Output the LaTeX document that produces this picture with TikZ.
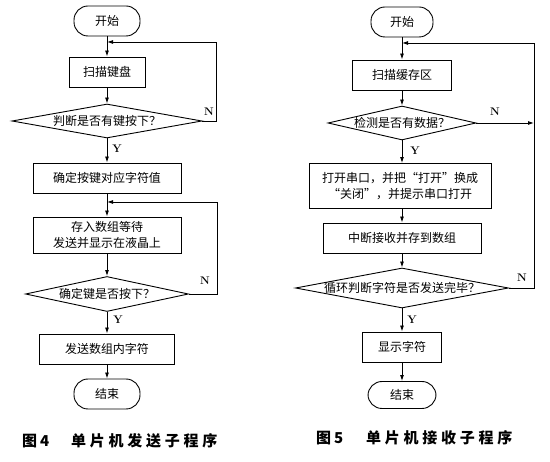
\documentclass[tikz,border=0pt]{standalone}
\usepackage{fontspec}
\usepackage{tikz}
\usetikzlibrary{shapes.geometric,arrows.meta,positioning}
\newfontfamily\cjk{Noto Sans CJK SC}
\newcommand\zerow[1]{\makebox[0pt]{#1}}

\begin{document}
\begin{tikzpicture}[x=1pt,y=-1pt]
\tikzset{every node/.style={font=\cjk\fontsize{12}{16}\selectfont}}
\tikzset{proc/.style={draw,line width=0.9pt,minimum height=30pt,align=center,inner sep=2pt}}
\tikzset{term/.style={draw,line width=0.9pt,rounded corners=14pt,minimum width=66pt,minimum height=30pt}}
\tikzset{dec/.style={draw,line width=0.9pt,diamond,aspect=6,inner sep=0pt}}
\tikzset{flow/.style={line width=0.9pt,-{Latex[length=6pt,width=4pt]}}}
\tikzset{yn/.style={font=\bfseries\fontsize{11}{12}\selectfont}}
\tikzset{captext/.style={font=\cjk\bfseries\fontsize{15}{16}\selectfont\addfontfeature{LetterSpace=25},anchor=west,inner sep=0pt}}
\useasboundingbox (0,0) rectangle (550,462);

% send routine
\node[term] (start1) at (107,21) {开始};
\node[proc,minimum width=76pt] (scan1) at (107,72) {扫描键盘};
\node[dec,minimum width=190pt,minimum height=34pt] (ask1) at (107,121) {\zerow{判断是否有键按下？}};
\node[proc,minimum width=148pt] (find1) at (107,178) {确定按键对应字符值};
\node[proc,minimum width=148pt,minimum height=36pt] (store1) at (107,235) {存入数组等待\\发送并显示在液晶上};
\node[dec,minimum width=163pt,minimum height=35pt] (ask2) at (107,294) {\zerow{确定键是否按下？}};
\node[proc,minimum width=135pt] (send1) at (107,349) {发送数组内字符};
\node[term] (end1) at (107,394) {结束};
\coordinate (j1) at (107,42);
\coordinate (r1) at (216,42);
\coordinate (j2) at (107,202);
\coordinate (r2) at (217,202);
\node[yn] (n1) at (209,112) {N};
\node[yn] (y1) at (117,149) {Y};
\node[yn] (n2) at (205,281) {N};
\node[yn] (y2) at (118,320) {Y};
\foreach \a/\b in {start1/scan1,scan1/ask1,ask1/find1,find1/store1,store1/ask2,ask2/send1,send1/end1}
  \draw[flow] (\a) -- (\b);
\draw[flow] (ask1.east) -| (r1) -- (j1);
\draw[flow] (ask2.east) -| (r2) -- (j2);

% receive routine
\node[term,minimum width=62pt] (start2) at (402,22) {开始};
\node[proc,minimum width=99pt] (scan2) at (402,75) {扫描缓存区};
\node[dec,minimum width=148pt,minimum height=34pt] (ask3) at (402,123) {\zerow{检测是否有数据？}};
\node[proc,minimum width=182pt,minimum height=45pt] (open2) at (400,186) {打开串口，并把“打开”换成\\“关闭”，并提示串口打开};
\node[proc,minimum width=158pt] (recv2) at (402,238) {中断接收并存到数组};
\node[dec,minimum width=213pt,minimum height=40pt] (ask4) at (402,288) {\zerow{循环判断字符是否发送完毕？}};
\node[proc,minimum width=79pt] (show2) at (402,347) {显示字符};
\node[term,minimum width=68pt,minimum height=27pt] (end2) at (402,395) {结束};
\coordinate (j3) at (402,43);
\coordinate (r3) at (534,43);
\node[yn] (n3) at (495,112) {N};
\node[yn] (y3) at (415,151) {Y};
\node[yn] (n4) at (522,278) {N};
\node[yn] (y4) at (412,320) {Y};
\foreach \a/\b in {start2/scan2,scan2/ask3,recv2/ask4,ask4/show2,show2/end2}
  \draw[flow] (\a) -- (\b);
\draw[flow] (ask3) -- (ask3 |- open2.north);
\draw[flow] (open2.south -| recv2) -- (recv2);
\draw[flow] (ask3.east) -- (ask3.east -| r3);
\draw[flow] (ask4.east) -| (r3) -- (j3);

% captions
\node[captext] (fig4) at (22,441) {图\hspace{3pt}4};
\node[captext] (title4) at (71,441) {单片机发送子程序};
\node[captext] (fig5) at (316,438) {图\hspace{3pt}5};
\node[captext] (title5) at (366,438) {单片机接收子程序};
\end{tikzpicture}
\end{document}
